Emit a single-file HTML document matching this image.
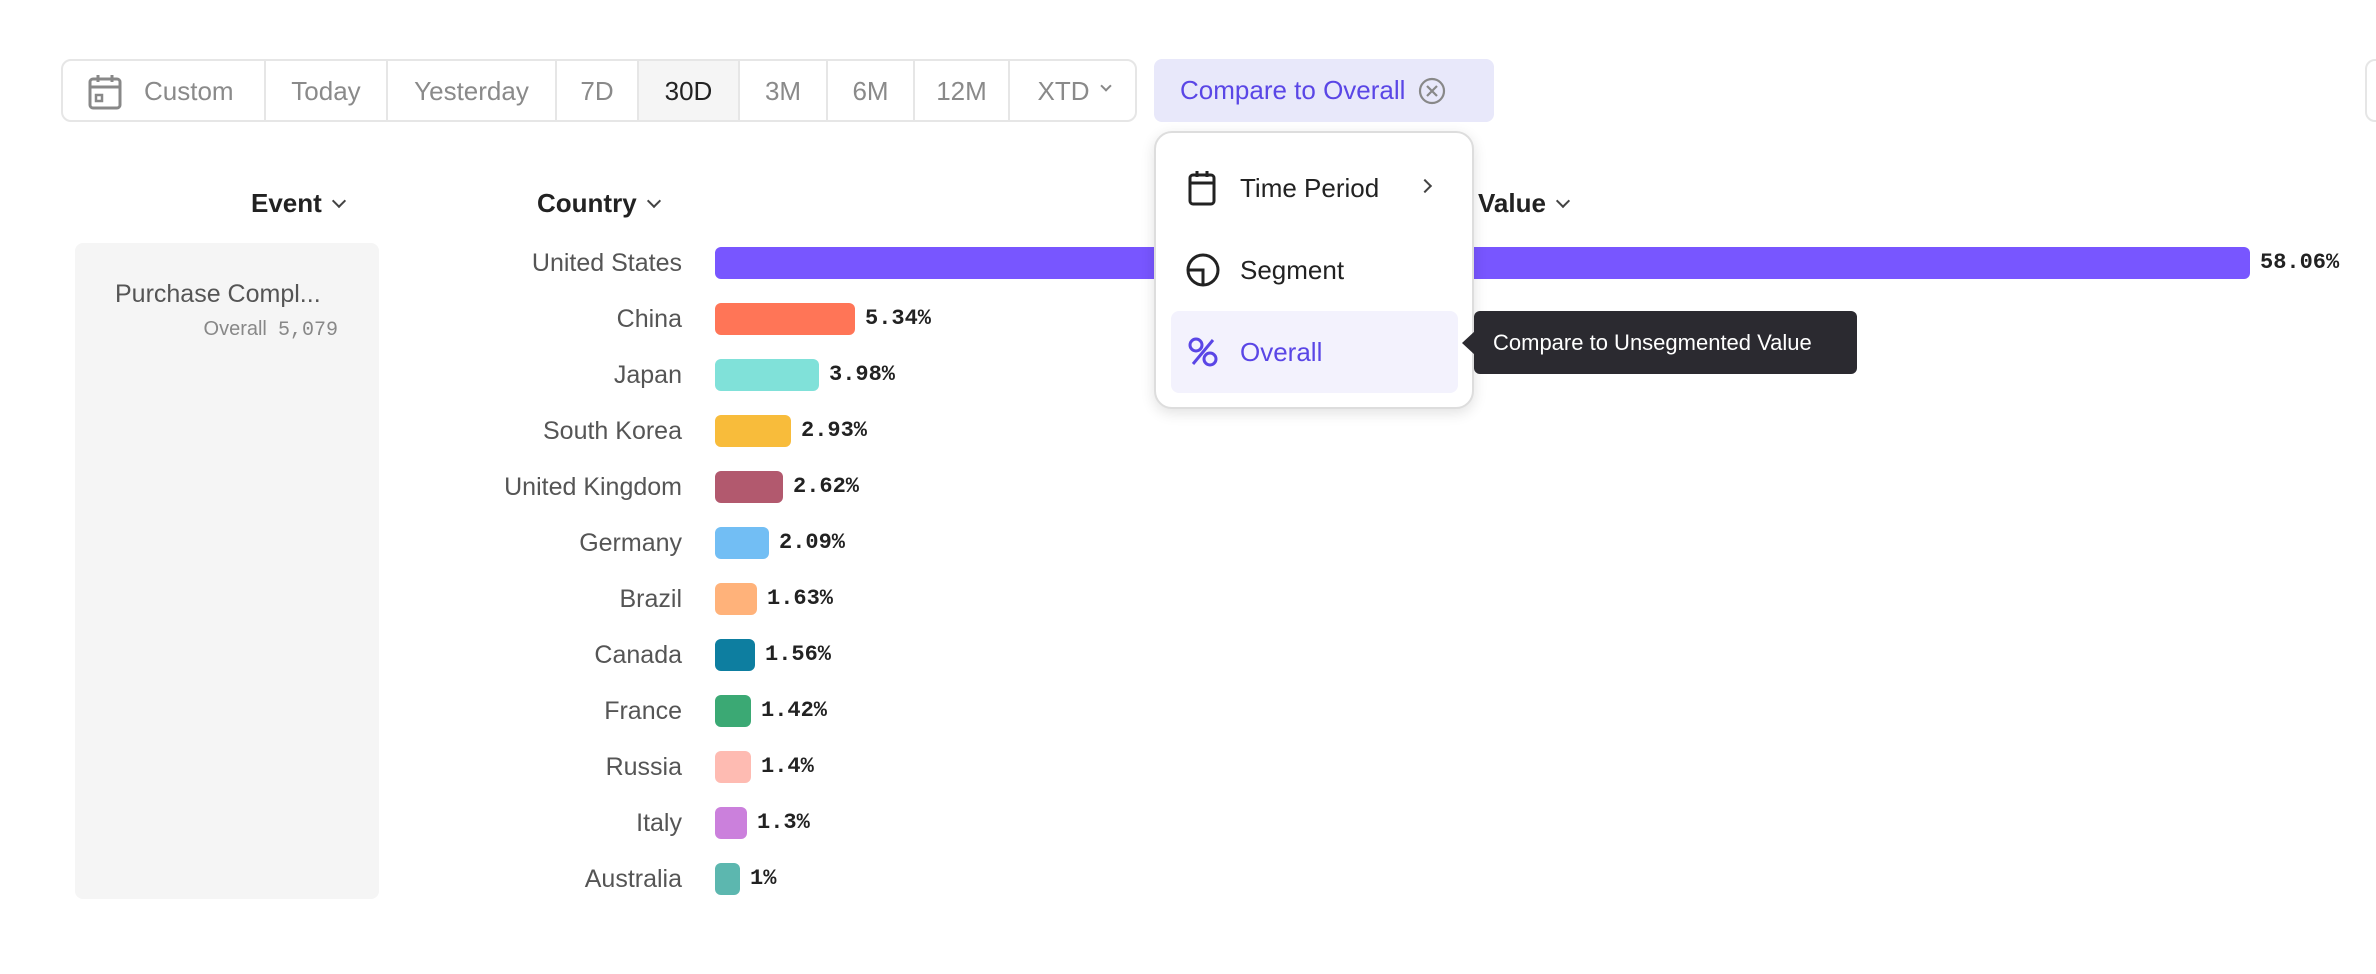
<!DOCTYPE html>
<html><head><meta charset="utf-8"><style>
*{margin:0;padding:0;box-sizing:border-box}
body{width:2376px;height:974px;background:#fff;position:relative;overflow:hidden;font-family:"Liberation Sans",sans-serif}
.a{position:absolute}
.seg{position:absolute;top:0;height:61px;display:flex;align-items:center;justify-content:center;font-size:26px;color:#8a8a8a;border-right:2px solid #e6e6e6}
.cl{position:absolute;right:1694px;font-size:25px;color:#555;height:32px;line-height:32px;text-align:right;white-space:nowrap}
.bar{position:absolute;left:715px;height:32px;border-radius:6px}
.v{position:absolute;font-family:"Liberation Mono",monospace;font-weight:bold;font-size:22px;color:#222;height:32px;line-height:32px}
.hd{position:absolute;font-size:26px;font-weight:bold;color:#222;top:188px}
.chev{display:inline-block;width:10px;height:10px;border-right:2.5px solid #444;border-bottom:2.5px solid #444;transform:rotate(45deg);margin-left:12px;position:relative;top:-6px}
</style></head><body>
<!-- toolbar -->
<div class="a" style="left:61px;top:59px;width:1076px;height:63px;border:2px solid #e6e6e6;border-radius:10px;overflow:hidden">
 <div class="seg" style="left:0;width:203px;justify-content:flex-start;padding-left:25px">
  <svg width="34" height="36" viewBox="0 0 34 36" style="margin-right:22px"><rect x="2" y="5" width="30" height="29" rx="3" fill="none" stroke="#888" stroke-width="3"/><line x1="2" y1="13" x2="32" y2="13" stroke="#888" stroke-width="3"/><line x1="10" y1="1" x2="10" y2="8" stroke="#888" stroke-width="3"/><line x1="24" y1="1" x2="24" y2="8" stroke="#888" stroke-width="3"/><rect x="8" y="21" width="6" height="6" fill="none" stroke="#888" stroke-width="2.5"/></svg>Custom</div>
 <div class="seg" style="left:203px;width:122px">Today</div>
 <div class="seg" style="left:325px;width:169px">Yesterday</div>
 <div class="seg" style="left:494px;width:82px">7D</div>
 <div class="seg" style="left:576px;width:101px;background:#f5f5f5;color:#222">30D</div>
 <div class="seg" style="left:677px;width:88px">3M</div>
 <div class="seg" style="left:765px;width:87px">6M</div>
 <div class="seg" style="left:852px;width:95px">12M</div>
 <div class="seg" style="left:947px;width:127px;border-right:none">XTD<span class="chev" style="border-color:#888;width:8px;height:8px;border-width:2px"></span></div>
</div>
<div class="a" style="left:1154px;top:59px;width:340px;height:63px;background:#e8e8fa;border-radius:8px;display:flex;align-items:center;padding-left:26px;font-size:26px;color:#5a46e6">Compare to Overall
 <svg width="30" height="30" viewBox="0 0 30 30" style="margin-left:12px"><circle cx="15" cy="15" r="12" fill="none" stroke="#888" stroke-width="2.2"/><path d="M10 10L20 20M20 10L10 20" stroke="#888" stroke-width="2.2"/></svg></div>
<div class="a" style="left:2365px;top:59px;width:120px;height:63px;border:2px solid #e6e6e6;border-radius:10px"></div>
<!-- headers -->
<div class="hd" style="left:251px">Event<span class="chev"></span></div>
<div class="hd" style="left:537px">Country<span class="chev"></span></div>
<div class="hd" style="left:1478px">Value<span class="chev"></span></div>
<!-- left panel -->
<div class="a" style="left:75px;top:243px;width:304px;height:656px;background:#f5f5f5;border-radius:8px"></div>
<div class="a" style="left:115px;top:280px;font-size:25px;color:#555">Purchase Compl...</div>
<div class="a" style="left:115px;top:318px;width:223px;text-align:right;font-size:20px;color:#888">Overall&nbsp; <span style="font-family:'Liberation Mono',monospace">5,079</span></div>
<!-- rows -->
<div class="cl" style="top:247px">United States</div><div class="bar" style="top:247px;width:1535px;background:#7856ff"></div><div class="v" style="top:247px;left:2260px">58.06%</div>
<div class="cl" style="top:303px">China</div><div class="bar" style="top:303px;width:140px;background:#ff7557"></div><div class="v" style="top:303px;left:865px">5.34%</div>
<div class="cl" style="top:359px">Japan</div><div class="bar" style="top:359px;width:104px;background:#80e1d9"></div><div class="v" style="top:359px;left:829px">3.98%</div>
<div class="cl" style="top:415px">South Korea</div><div class="bar" style="top:415px;width:76px;background:#f8bc3b"></div><div class="v" style="top:415px;left:801px">2.93%</div>
<div class="cl" style="top:471px">United Kingdom</div><div class="bar" style="top:471px;width:68px;background:#b2596e"></div><div class="v" style="top:471px;left:793px">2.62%</div>
<div class="cl" style="top:527px">Germany</div><div class="bar" style="top:527px;width:54px;background:#72bef4"></div><div class="v" style="top:527px;left:779px">2.09%</div>
<div class="cl" style="top:583px">Brazil</div><div class="bar" style="top:583px;width:42px;background:#ffb27a"></div><div class="v" style="top:583px;left:767px">1.63%</div>
<div class="cl" style="top:639px">Canada</div><div class="bar" style="top:639px;width:40px;background:#0d7ea0"></div><div class="v" style="top:639px;left:765px">1.56%</div>
<div class="cl" style="top:695px">France</div><div class="bar" style="top:695px;width:36px;background:#3ba974"></div><div class="v" style="top:695px;left:761px">1.42%</div>
<div class="cl" style="top:751px">Russia</div><div class="bar" style="top:751px;width:36px;background:#febbb2"></div><div class="v" style="top:751px;left:761px">1.4%</div>
<div class="cl" style="top:807px">Italy</div><div class="bar" style="top:807px;width:32px;background:#cb80dc"></div><div class="v" style="top:807px;left:757px">1.3%</div>
<div class="cl" style="top:863px">Australia</div><div class="bar" style="top:863px;width:25px;background:#5cb7af"></div><div class="v" style="top:863px;left:750px">1%</div>
<!-- dropdown -->
<div class="a" style="left:1154px;top:131px;width:320px;height:278px;background:#fff;border:2px solid #ddd;border-radius:18px;box-shadow:0 4px 14px rgba(0,0,0,0.12)"></div>
<svg class="a" style="left:1188px;top:170px" width="28" height="36" viewBox="0 0 28 36"><rect x="2" y="5" width="24" height="29" rx="3" fill="none" stroke="#222" stroke-width="3"/><line x1="2" y1="13" x2="26" y2="13" stroke="#222" stroke-width="3"/><line x1="9" y1="1" x2="9" y2="7" stroke="#222" stroke-width="3"/><line x1="19" y1="1" x2="19" y2="7" stroke="#222" stroke-width="3"/></svg>
<div class="a" style="left:1240px;top:173px;font-size:26px;color:#222">Time Period</div>
<div class="a" style="left:1420px;top:181px;width:10px;height:10px;border-right:2.5px solid #444;border-top:2.5px solid #444;transform:rotate(45deg)"></div>
<svg class="a" style="left:1186px;top:253px" width="34" height="34" viewBox="0 0 34 34"><circle cx="17" cy="17" r="15" fill="none" stroke="#222" stroke-width="3"/><path d="M2 17H17V32" fill="none" stroke="#222" stroke-width="3"/></svg>
<div class="a" style="left:1240px;top:255px;font-size:26px;color:#222">Segment</div>
<div class="a" style="left:1171px;top:311px;width:287px;height:82px;background:#f3f2fd;border-radius:8px"></div>
<svg class="a" style="left:1188px;top:337px" width="30" height="30" viewBox="0 0 30 30"><circle cx="8" cy="8" r="6" fill="none" stroke="#5a46e6" stroke-width="3"/><circle cx="22" cy="22" r="6" fill="none" stroke="#5a46e6" stroke-width="3"/><line x1="25" y1="3" x2="5" y2="27" stroke="#5a46e6" stroke-width="3"/></svg>
<div class="a" style="left:1240px;top:337px;font-size:26px;color:#5a46e6">Overall</div>
<!-- tooltip -->
<div class="a" style="left:1474px;top:311px;width:383px;height:63px;background:#2b2a30;border-radius:6px;color:#fff;font-size:22px;line-height:63px;padding-left:19px">Compare to Unsegmented Value</div>
<div class="a" style="left:1462px;top:331px;width:0;height:0;border-top:12px solid transparent;border-bottom:12px solid transparent;border-right:13px solid #2b2a30"></div>
</body></html>
